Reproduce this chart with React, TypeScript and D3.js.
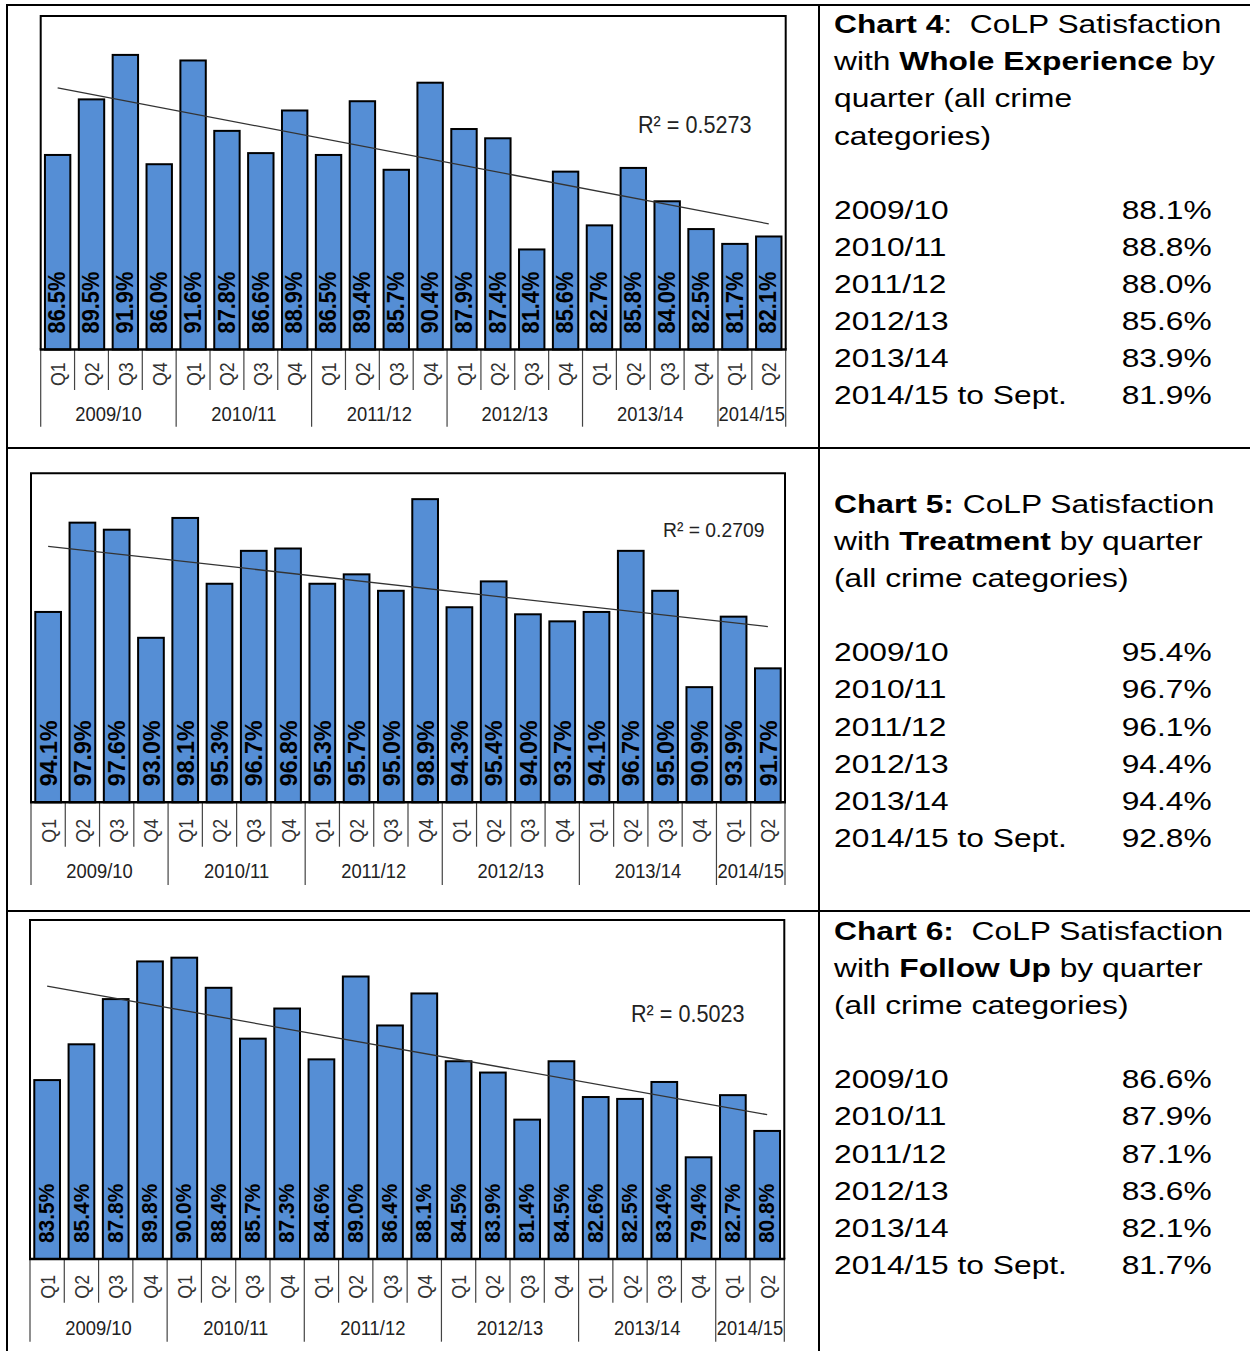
import React from "react";
import * as d3 from "d3";

// quarters per financial year (2014/15 only up to Sept.)
const years = ["2009/10", "2010/11", "2011/12", "2012/13", "2013/14", "2014/15"];
const quarters = ["Q1", "Q2", "Q3", "Q4"];
const quartersPerYear = [4, 4, 4, 4, 4, 2];

const wholeExperience = [86.5, 89.5, 91.9, 86.0, 91.6, 87.8, 86.6, 88.9, 86.5, 89.4, 85.7, 90.4, 87.9, 87.4, 81.4, 85.6, 82.7, 85.8, 84.0, 82.5, 81.7, 82.1];
const treatment = [94.1, 97.9, 97.6, 93.0, 98.1, 95.3, 96.7, 96.8, 95.3, 95.7, 95.0, 98.9, 94.3, 95.4, 94.0, 93.7, 94.1, 96.7, 95.0, 90.9, 93.9, 91.7];
const followUp = [83.5, 85.4, 87.8, 89.8, 90.0, 88.4, 85.7, 87.3, 84.6, 89.0, 86.4, 88.1, 84.5, 83.9, 81.4, 84.5, 82.6, 82.5, 83.4, 79.4, 82.7, 80.8];

const rSquared = ["0.5273", "0.2709", "0.5023"];

const summaryLabels = ["2009/10", "2010/11", "2011/12", "2012/13", "2013/14", "2014/15 to Sept."];
const wholeAnnual = [88.1, 88.8, 88.0, 85.6, 83.9, 81.9];
const treatmentAnnual = [95.4, 96.7, 96.1, 94.4, 94.4, 92.8];
const followUpAnnual = [86.6, 87.9, 87.1, 83.6, 82.1, 81.7];

const FONT = "'Liberation Sans', Arial, sans-serif";

const categories: { year: string; q: string }[] = [];
years.forEach((y, i) => {
  for (let k = 0; k < quartersPerYear[i]; k++) categories.push({ year: y, q: quarters[k] });
});

interface ChartLayout {
  left: number;
  right: number;
  top: number;
  axisY: number;
  qBottom: number;
  yearBottom: number;
  yearLabelY: number;
  domain: [number, number];
  valueFont: number;
  r2X: number;
  r2Y: number;
  r2Font: number;
}

const BarChart: React.FC<{ values: number[]; r2: string; layout: ChartLayout }> = ({ values, r2, layout: L }) => {
  const x = d3
    .scaleBand<number>()
    .domain(d3.range(values.length))
    .range([L.left, L.right])
    .paddingInner(0.25)
    .paddingOuter(0.125);
  const y = d3.scaleLinear().domain(L.domain).range([L.axisY, L.top]);
  const step = x.step();
  const bw = x.bandwidth();
  const cx = (i: number) => (x(i) as number) + bw / 2;

  // linear trendline, x = 1..n like Excel
  const xs = values.map((_, i) => i + 1);
  const mx = d3.mean(xs)!;
  const my = d3.mean(values)!;
  const slope =
    d3.sum(xs, (v, i) => (v - mx) * (values[i] - my)) / d3.sum(xs, (v) => (v - mx) * (v - mx));
  const icpt = my - slope * mx;
  const trend = d3
    .line<number>()
    .x((i) => cx(i))
    .y((i) => y(icpt + slope * (i + 1)));

  // group boundaries
  const yearStarts: number[] = [];
  let acc = 0;
  quartersPerYear.forEach((n) => {
    yearStarts.push(acc);
    acc += n;
  });

  return (
    <g fontFamily={FONT}>
      {values.map((v, i) => (
        <rect
          key={i}
          x={x(i)}
          y={y(v)}
          width={bw}
          height={L.axisY - y(v)}
          fill="#558ed5"
          stroke="#000"
          strokeWidth={2}
        />
      ))}
      {values.map((v, i) => (
        <text
          key={"v" + i}
          transform={`translate(${cx(i)},${L.axisY - 16}) rotate(-90) scale(0.95,1)`}
          dominantBaseline="central"
          fontWeight="bold"
          fontSize={L.valueFont}
          fill="#000"
        >
          {v.toFixed(1)}%
        </text>
      ))}
      <path d={trend([0, values.length - 1]) || ""} fill="none" stroke="#333" strokeWidth={1.3} />
      <text
        transform={`translate(${L.r2X},${L.r2Y}) scale(0.92,1)`}
        dominantBaseline="central"
        fontSize={L.r2Font}
        fill="#222"
      >
        R² = {r2}
      </text>
      {/* frame */}
      <path
        d={`M${L.left},${L.axisY}V${L.top}H${L.right}V${L.axisY}`}
        fill="none"
        stroke="#000"
        strokeWidth={2}
      />
      {/* category dividers */}
      {d3.range(values.length + 1).map((i) => {
        const isYear = yearStarts.includes(i) || i === values.length;
        const xx = L.left + i * step;
        return (
          <line
            key={"d" + i}
            x1={xx}
            x2={xx}
            y1={L.axisY}
            y2={isYear ? L.yearBottom : L.qBottom}
            stroke="#444"
            strokeWidth={1.2}
          />
        );
      })}
      <line x1={L.left - 1} x2={L.right + 1} y1={L.axisY} y2={L.axisY} stroke="#000" strokeWidth={2.5} />
      {categories.map((c, i) => (
        <text
          key={"q" + i}
          transform={`translate(${cx(i)},${L.qBottom - 4}) rotate(-90) scale(0.85,1)`}
          dominantBaseline="central"
          fontSize={21}
          fill="#333"
        >
          {c.q}
        </text>
      ))}
      {years.map((yr, k) => (
        <text
          key={"y" + k}
          transform={`translate(${L.left + (yearStarts[k] + quartersPerYear[k] / 2) * step},${L.yearLabelY}) scale(0.92,1)`}
          textAnchor="middle"
          dominantBaseline="central"
          fontSize={20}
          fill="#222"
        >
          {yr}
        </text>
      ))}
    </g>
  );
};

const SX = 1.24;
const LINE = 37.1;

const TextBlock: React.FC<{
  top: number;
  heading: React.ReactNode[];
  annual: number[];
}> = ({ top, heading, annual }) => {
  const valX = (1121.7 - 834) / SX;
  return (
    <g transform={`translate(834,0)`} fontFamily={FONT} fontSize={25.6} fill="#000">
      <g transform={`scale(${SX},1)`}>
        {heading.map((h, i) => (
          <text key={i} x={0} y={top + i * LINE} style={{ whiteSpace: "pre" }}>
            {h}
          </text>
        ))}
        {summaryLabels.map((s, i) => (
          <g key={"s" + i}>
            <text x={0} y={top + (heading.length + 1 + i) * LINE}>
              {s}
            </text>
            <text x={valX} y={top + (heading.length + 1 + i) * LINE}>
              {annual[i].toFixed(1)}%
            </text>
          </g>
        ))}
      </g>
    </g>
  );
};

const layouts: ChartLayout[] = [
  { left: 40.7, right: 785.7, top: 16, axisY: 349.5, qBottom: 390, yearBottom: 426.7, yearLabelY: 414, domain: [76, 94], valueFont: 23, r2X: 638, r2Y: 125, r2Font: 23.5 },
  { left: 31, right: 785, top: 473.3, axisY: 802.3, qBottom: 846.7, yearBottom: 885, yearLabelY: 871.7, domain: [86, 100], valueFont: 24.5, r2X: 663, r2Y: 530, r2Font: 21 },
  { left: 30, right: 784.3, top: 920, axisY: 1259, qBottom: 1302.7, yearBottom: 1341.7, yearLabelY: 1328.3, domain: [74, 92], valueFont: 22, r2X: 631, r2Y: 1014, r2Font: 23.5 },
];

export default function App() {
  const b = (s: string) => <tspan fontWeight="bold">{s}</tspan>;
  return (
    <svg
      width={1250}
      height={1351}
      style={{ position: "absolute", left: 0, top: 0, background: "#fff" }}
    >
      <rect width={1250} height={1351} fill="#fff" />
      {/* table grid */}
      <g stroke="#000" strokeWidth={2}>
        <line x1={6} x2={1250} y1={5} y2={5} />
        <line x1={7} x2={7} y1={4} y2={1351} />
        <line x1={819} x2={819} y1={4} y2={1351} />
        <line x1={6} x2={1250} y1={448} y2={448} />
        <line x1={6} x2={1250} y1={911} y2={911} />
      </g>
      <BarChart values={wholeExperience} r2={rSquared[0]} layout={layouts[0]} />
      <BarChart values={treatment} r2={rSquared[1]} layout={layouts[1]} />
      <BarChart values={followUp} r2={rSquared[2]} layout={layouts[2]} />
      <TextBlock
        top={33.3}
        heading={[
          <>{b("Chart 4")}:{"\u00a0 "}CoLP Satisfaction</>,
          <>with {b("Whole Experience")} by</>,
          <>quarter (all crime</>,
          <>categories)</>,
        ]}
        annual={wholeAnnual}
      />
      <TextBlock
        top={513}
        heading={[
          <>{b("Chart 5:")} CoLP Satisfaction</>,
          <>with {b("Treatment")} by quarter</>,
          <>(all crime categories)</>,
        ]}
        annual={treatmentAnnual}
      />
      <TextBlock
        top={940}
        heading={[
          <>{b("Chart 6:")}{"\u00a0 "}CoLP Satisfaction</>,
          <>with {b("Follow Up")} by quarter</>,
          <>(all crime categories)</>,
        ]}
        annual={followUpAnnual}
      />
    </svg>
  );
}
